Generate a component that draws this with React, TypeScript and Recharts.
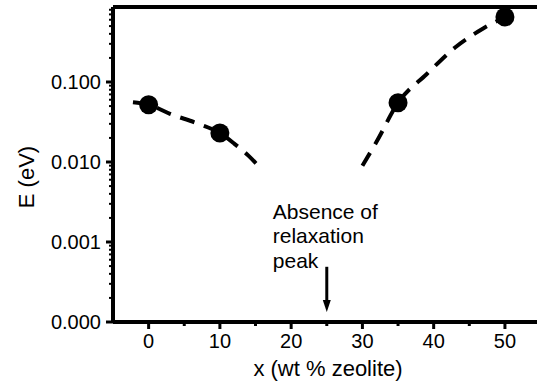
import React from 'react';
import {
  ComposedChart,
  Line,
  Scatter,
  XAxis,
  YAxis,
  ReferenceLine,
} from 'recharts';

// measured points
const measured = [
  { x: 0, e: 0.052 },
  { x: 10, e: 0.023 },
  { x: 35, e: 0.055 },
  { x: 50, e: 0.65 },
];

// dashed guide curves
const leftCurve = [
  { x: -2.2, e: 0.056 },
  { x: 0, e: 0.052 },
  { x: 3, e: 0.04 },
  { x: 7, e: 0.03 },
  { x: 10, e: 0.023 },
  { x: 12, e: 0.017 },
  { x: 14, e: 0.012 },
  { x: 15.8, e: 0.0082 },
];

const rightCurve = [
  { x: 30, e: 0.009 },
  { x: 32, e: 0.018 },
  { x: 35, e: 0.055 },
  { x: 39, e: 0.125 },
  { x: 43, e: 0.27 },
  { x: 47, e: 0.47 },
  { x: 50, e: 0.65 },
  { x: 51.5, e: 0.78 },
];

const xDomain = [-5, 54.5];
const yDomain = [0.0001, 0.866];
const xTicks = [0, 5, 10, 15, 20, 25, 30, 35, 40, 45, 50];
const yMajorTicks = [0.0001, 0.001, 0.01, 0.1];
const yMinorSteps = [2, 3, 4, 5, 6, 7, 8, 9];
const yTicks = yMajorTicks.flatMap((d) => [d, ...yMinorSteps.map((m) => +(d * m).toPrecision(3))]).filter((v) => v <= 0.86);

const xTitle = 'x (wt % zeolite)';
const yTitle = 'E (eV)';
const annotation = ['Absence of', 'relaxation', 'peak'];
const arrowX = 25;
const arrowFrom = 0.00049;
const arrowTo = 0.000133;

const font = '"Liberation Sans", Arial, sans-serif';

function XTick({ x, y, payload }: any) {
  const major = payload.value % 10 === 0;
  return (
    <g>
      <line x1={x} x2={x} y1={y} y2={y + (major ? 7 : 4)} stroke='#000' strokeWidth={3} />
      {major && (
        <text x={x} y={y + 26} textAnchor='middle' fontSize={20} fontFamily={font} fill='#000'>
          {payload.value}
        </text>
      )}
    </g>
  );
}

function YTick({ x, y, payload }: any) {
  const major = yMajorTicks.some((t) => Math.abs(t - payload.value) < t * 0.01);
  return (
    <g>
      <line x1={x - (major ? 7 : 4)} x2={x} y1={y} y2={y} stroke='#000' strokeWidth={major ? 3 : 2} />
      {major && (
        <text x={x - 12} y={y} dy='0.36em' textAnchor='end' fontSize={20} fontFamily={font} fill='#000'>
          {payload.value.toFixed(3)}
        </text>
      )}
    </g>
  );
}

function Arrow(props: any) {
  const { x1, y1, x2, y2 } = props;
  return (
    <g>
      <line x1={x1} y1={y1} x2={x2} y2={y2 - 10} stroke='#000' strokeWidth={3} />
      <polygon points={`${x2 - 4},${y2 - 12} ${x2 + 4},${y2 - 12} ${x2},${y2}`} fill='#000' />
      {annotation.map((t, i) => (
        <text key={t} x={x1 - 54} y={y1 - 48 + i * 24.5} fontSize={21} fontFamily={font} fill='#000'>
          {t}
        </text>
      ))}
    </g>
  );
}

const titleStyle: React.CSSProperties = {
  position: 'absolute',
  fontFamily: font,
  fontSize: 22,
  color: '#000',
  whiteSpace: 'nowrap',
  lineHeight: '22px',
};

export default function App() {
  return (
    <div style={{ position: 'absolute', left: 0, top: 0, width: 537, height: 383, background: '#fff' }}>
      <ComposedChart width={537} height={383} margin={{ top: 7, right: 0, bottom: 60, left: 112 }}>
        <XAxis
          dataKey='x'
          type='number'
          domain={xDomain}
          allowDataOverflow
          ticks={xTicks}
          interval={0}
          height={1}
          tickLine={false}
          tickSize={0}
          tickMargin={0}
          tick={<XTick />}
          axisLine={{ stroke: '#000', strokeWidth: 4 }}
        />
        <YAxis
          dataKey='e'
          type='number'
          scale='log'
          domain={yDomain}
          allowDataOverflow
          ticks={yTicks}
          interval={0}
          width={1}
          tickLine={false}
          tickSize={0}
          tickMargin={0}
          tick={<YTick />}
          axisLine={{ stroke: '#000', strokeWidth: 4 }}
        />
        {/* top frame */}
        <ReferenceLine y={yDomain[1]} stroke='#000' strokeWidth={4} />
        <Line
          data={leftCurve}
          dataKey='e'
          type='monotone'
          stroke='#000'
          strokeWidth={4}
          strokeDasharray='15 10'
          dot={false}
          isAnimationActive={false}
        />
        <Line
          data={rightCurve}
          dataKey='e'
          type='monotone'
          stroke='#000'
          strokeWidth={4}
          strokeDasharray='15 10'
          dot={false}
          isAnimationActive={false}
        />
        <Scatter data={measured} dataKey='e' fill='#000' shape={(p: any) => <circle cx={p.cx} cy={p.cy} r={9.5} fill='#000' />} isAnimationActive={false} />
        <ReferenceLine
          segment={[
            { x: arrowX, y: arrowFrom },
            { x: arrowX, y: arrowTo },
          ]}
          shape={<Arrow />}
        />
      </ComposedChart>
      <div style={{ ...titleStyle, left: 328, top: 358, transform: 'translateX(-50%)' }}>{xTitle}</div>
      <div style={{ ...titleStyle, left: 27, top: 177, transform: 'translate(-50%, -50%) rotate(-90deg)' }}>{yTitle}</div>
    </div>
  );
}
